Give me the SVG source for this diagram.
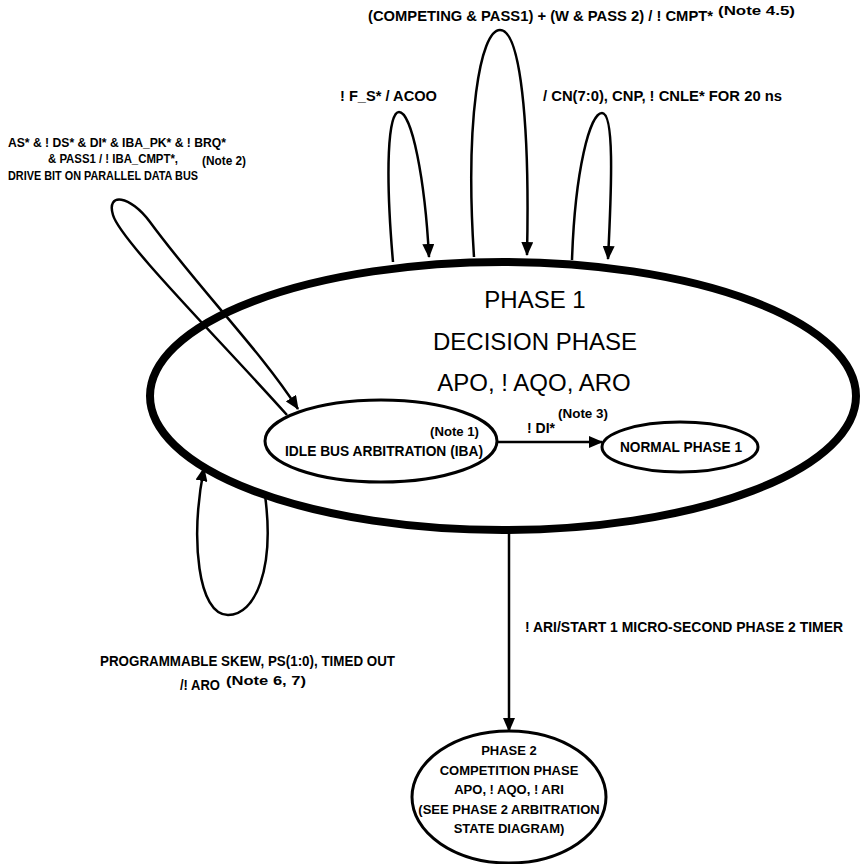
<svg xmlns="http://www.w3.org/2000/svg" width="862" height="864" viewBox="0 0 862 864">
<defs>
<marker id="ah" markerWidth="14" markerHeight="12" refX="13" refY="6" orient="auto" markerUnits="userSpaceOnUse">
<path d="M0,0 L14,6 L0,12 Z" fill="#000"/>
</marker>
<style>
.t{font-family:"Liberation Sans",Arial,sans-serif;font-weight:bold;fill:#000}
.lbl{font-size:14px}
.sm{font-size:12.2px}
.p2{font-size:13px}
.note{font-size:12px}
.big{font-size:24px;font-weight:normal}
.st{fill:#fff;stroke:#000}
.c{fill:none;stroke:#000;stroke-width:2.5}
</style>
</defs>
<rect width="862" height="864" fill="#fff"/>

<g id="phase1">
<ellipse class="st" cx="503" cy="396" rx="353" ry="134" stroke-width="8"/>
<text class="t big" x="535" y="308" text-anchor="middle">PHASE 1</text>
<text class="t big" x="535" y="350" text-anchor="middle">DECISION PHASE</text>
<text class="t big" x="534" y="391" text-anchor="middle">APO, ! AQO, ARO</text>
</g>

<g id="iba">
<ellipse class="st" cx="381" cy="441" rx="116" ry="41" stroke-width="3"/>
<text class="t note" x="430" y="436" textLength="49" lengthAdjust="spacingAndGlyphs">(Note 1)</text>
<text class="t lbl" x="285" y="456" textLength="198" lengthAdjust="spacingAndGlyphs">IDLE BUS ARBITRATION (IBA)</text>
</g>

<g id="normal">
<ellipse class="st" cx="680" cy="447" rx="78" ry="25" stroke-width="3"/>
<text class="t lbl" x="620" y="452" textLength="122" lengthAdjust="spacingAndGlyphs">NORMAL PHASE 1</text>
</g>

<g id="phase2">
<ellipse class="st" cx="509" cy="797" rx="97" ry="66" stroke-width="3"/>
<text class="t p2" x="509" y="755" text-anchor="middle">PHASE 2</text>
<text class="t p2" x="509" y="775" text-anchor="middle">COMPETITION PHASE</text>
<text class="t p2" x="509" y="794" text-anchor="middle">APO, ! AQO, ! ARI</text>
<text class="t p2" x="509" y="814" text-anchor="middle">(SEE PHASE 2 ARBITRATION</text>
<text class="t p2" x="509" y="833" text-anchor="middle">STATE DIAGRAM)</text>
</g>

<g id="connectors">
<path class="c" d="M393,262 C385,170 388,112 399,112 C412,112 425,180 429,257" marker-end="url(#ah)"/>
<path class="c" d="M474,257 C465,120 480,30 500,30 C520,30 530,120 527,255" marker-end="url(#ah)"/>
<path class="c" d="M572,260 C575,170 590,113 602,113 C614,113 612,180 608,259" marker-end="url(#ah)"/>
<path class="c" d="M287,415 C220,340 120,240 113,215 C106,192 130,195 150,222 C200,290 260,350 298,409" marker-end="url(#ah)"/>
<path class="c" d="M265,495 C275,570 255,615 228,615 C198,615 190,540 204,468" marker-end="url(#ah)"/>
<path class="c" d="M497,442 L602,442" marker-end="url(#ah)"/>
<path class="c" d="M509,531 L509,731" marker-end="url(#ah)"/>
</g>

<g id="labels">
<text class="t lbl" x="368" y="21" textLength="345" lengthAdjust="spacingAndGlyphs">(COMPETING &amp; PASS1) + (W &amp; PASS 2) / ! CMPT*</text>
<text class="t note" x="718" y="15" textLength="77" lengthAdjust="spacingAndGlyphs">(Note 4.5)</text>
<text class="t lbl" x="340" y="101" textLength="97" lengthAdjust="spacingAndGlyphs">! F_S* / ACOO</text>
<text class="t lbl" x="543" y="101" textLength="239" lengthAdjust="spacingAndGlyphs">/ CN(7:0), CNP, ! CNLE* FOR 20 ns</text>
<text class="t sm" x="8" y="147" textLength="218" lengthAdjust="spacingAndGlyphs">AS* &amp; ! DS* &amp; DI* &amp; IBA_PK* &amp; ! BRQ*</text>
<text class="t sm" x="48" y="163" textLength="130" lengthAdjust="spacingAndGlyphs">&amp; PASS1 / ! IBA_CMPT*,</text>
<text class="t sm" x="8" y="180" textLength="190" lengthAdjust="spacingAndGlyphs">DRIVE BIT ON PARALLEL DATA BUS</text>
<text class="t note" x="202" y="165" textLength="44" lengthAdjust="spacingAndGlyphs">(Note 2)</text>
<text class="t lbl" x="527" y="433" textLength="28" lengthAdjust="spacingAndGlyphs">! DI*</text>
<text class="t note" x="558" y="418" textLength="50" lengthAdjust="spacingAndGlyphs">(Note 3)</text>
<text class="t lbl" x="100" y="666" textLength="295" lengthAdjust="spacingAndGlyphs">PROGRAMMABLE SKEW, PS(1:0), TIMED OUT</text>
<text class="t lbl" x="180" y="690" textLength="40" lengthAdjust="spacingAndGlyphs">/! ARO</text>
<text class="t note" x="226" y="685" textLength="80" lengthAdjust="spacingAndGlyphs">(Note 6, 7)</text>
<text class="t lbl" x="525" y="632" textLength="318" lengthAdjust="spacingAndGlyphs">! ARI/START 1 MICRO-SECOND PHASE 2 TIMER</text>
</g>
</svg>
